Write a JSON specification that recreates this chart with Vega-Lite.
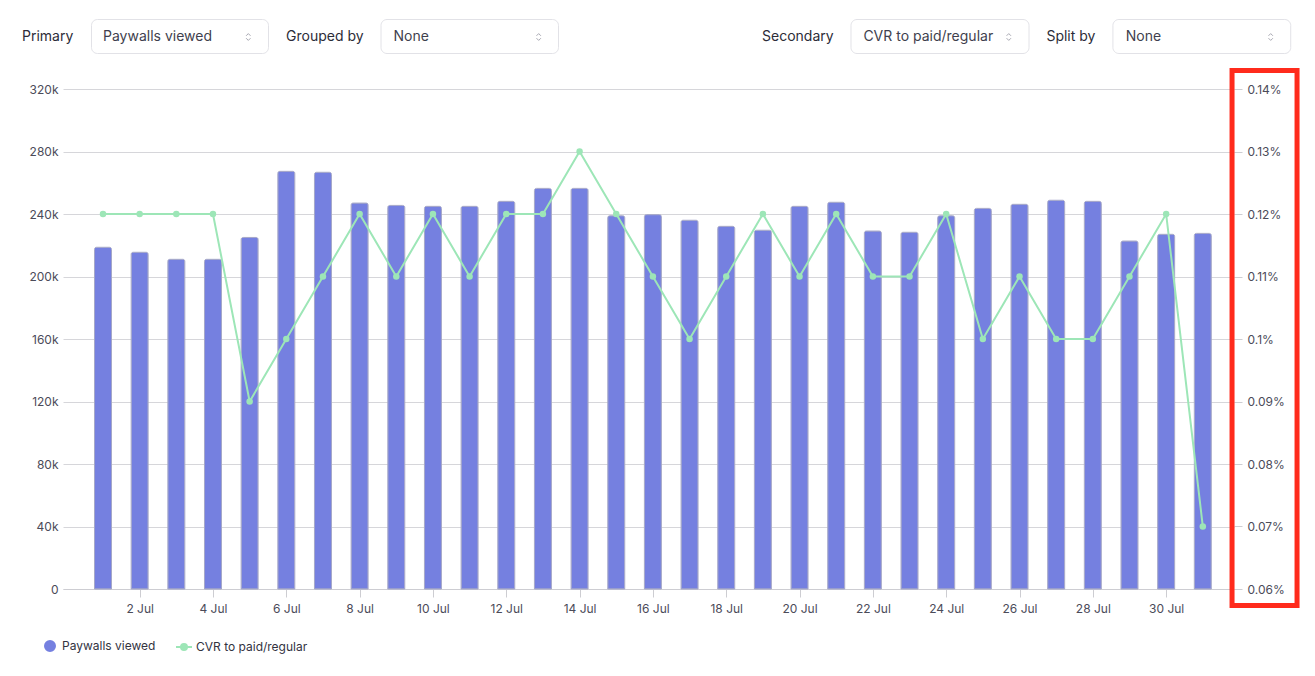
{
  "$schema": "https://vega.github.io/schema/vega-lite/v6.json",
  "autosize": {"type": "none"},
  "padding": {"left": 63, "top": 89, "right": 81, "bottom": 87},
  "width": 1171,
  "height": 500,
  "background": "white",
  "config": {
    "font": "Inter",
    "view": {"stroke": null},
    "axis": {"labelFont": "Inter", "labelFontSize": 12, "labelColor": "#4b4b59", "gridColor": "#d6d6da", "domainColor": "#cdcdd2", "tickColor": "#cdcdd2"},
    "legend": {"labelFont": "Inter", "labelFontSize": 12, "labelColor": "#33333f"}
  },
  "datasets": {
    "daily": [
      {"date": "2024-07-01T00:00:00", "paywalls_viewed": 218700, "cvr_pct": 0.12},
      {"date": "2024-07-02T00:00:00", "paywalls_viewed": 215500, "cvr_pct": 0.12},
      {"date": "2024-07-03T00:00:00", "paywalls_viewed": 211000, "cvr_pct": 0.12},
      {"date": "2024-07-04T00:00:00", "paywalls_viewed": 211000, "cvr_pct": 0.12},
      {"date": "2024-07-05T00:00:00", "paywalls_viewed": 225000, "cvr_pct": 0.09},
      {"date": "2024-07-06T00:00:00", "paywalls_viewed": 267300, "cvr_pct": 0.10},
      {"date": "2024-07-07T00:00:00", "paywalls_viewed": 266700, "cvr_pct": 0.11},
      {"date": "2024-07-08T00:00:00", "paywalls_viewed": 247000, "cvr_pct": 0.12},
      {"date": "2024-07-09T00:00:00", "paywalls_viewed": 245500, "cvr_pct": 0.11},
      {"date": "2024-07-10T00:00:00", "paywalls_viewed": 244900, "cvr_pct": 0.12},
      {"date": "2024-07-11T00:00:00", "paywalls_viewed": 244900, "cvr_pct": 0.11},
      {"date": "2024-07-12T00:00:00", "paywalls_viewed": 248100, "cvr_pct": 0.12},
      {"date": "2024-07-13T00:00:00", "paywalls_viewed": 256400, "cvr_pct": 0.12},
      {"date": "2024-07-14T00:00:00", "paywalls_viewed": 256400, "cvr_pct": 0.13},
      {"date": "2024-07-15T00:00:00", "paywalls_viewed": 238900, "cvr_pct": 0.12},
      {"date": "2024-07-16T00:00:00", "paywalls_viewed": 239600, "cvr_pct": 0.11},
      {"date": "2024-07-17T00:00:00", "paywalls_viewed": 236000, "cvr_pct": 0.10},
      {"date": "2024-07-18T00:00:00", "paywalls_viewed": 232100, "cvr_pct": 0.11},
      {"date": "2024-07-19T00:00:00", "paywalls_viewed": 229600, "cvr_pct": 0.12},
      {"date": "2024-07-20T00:00:00", "paywalls_viewed": 244900, "cvr_pct": 0.11},
      {"date": "2024-07-21T00:00:00", "paywalls_viewed": 247500, "cvr_pct": 0.12},
      {"date": "2024-07-22T00:00:00", "paywalls_viewed": 229100, "cvr_pct": 0.11},
      {"date": "2024-07-23T00:00:00", "paywalls_viewed": 228300, "cvr_pct": 0.11},
      {"date": "2024-07-24T00:00:00", "paywalls_viewed": 238900, "cvr_pct": 0.12},
      {"date": "2024-07-25T00:00:00", "paywalls_viewed": 243600, "cvr_pct": 0.10},
      {"date": "2024-07-26T00:00:00", "paywalls_viewed": 246200, "cvr_pct": 0.11},
      {"date": "2024-07-27T00:00:00", "paywalls_viewed": 248800, "cvr_pct": 0.10},
      {"date": "2024-07-28T00:00:00", "paywalls_viewed": 248100, "cvr_pct": 0.10},
      {"date": "2024-07-29T00:00:00", "paywalls_viewed": 222700, "cvr_pct": 0.11},
      {"date": "2024-07-30T00:00:00", "paywalls_viewed": 227000, "cvr_pct": 0.12},
      {"date": "2024-07-31T00:00:00", "paywalls_viewed": 227600, "cvr_pct": 0.07}
    ],
    "header": [
      {"primary": "Paywalls viewed", "grouped_by": "None", "secondary": "CVR to paid/regular", "split_by": "None"}
    ]
  },
  "layer": [
    {
      "layer": [
        {
          "data": {"name": "daily"},
          "mark": {"type": "bar", "width": 17, "cornerRadiusTopLeft": 2, "cornerRadiusTopRight": 2, "stroke": "#a4a6c8", "strokeWidth": 1},
          "encoding": {
            "x": {"field": "date", "type": "temporal", "title": null,
              "scale": {"domain": [{"year": 2024, "month": "jun", "date": 29, "hours": 21, "minutes": 49}, {"year": 2024, "month": "jul", "date": 31, "hours": 20, "minutes": 25}], "nice": false, "padding": 0},
              "axis": {"values": [
                {"year": 2024, "month": "jul", "date": 2}, {"year": 2024, "month": "jul", "date": 4}, {"year": 2024, "month": "jul", "date": 6}, {"year": 2024, "month": "jul", "date": 8},
                {"year": 2024, "month": "jul", "date": 10}, {"year": 2024, "month": "jul", "date": 12}, {"year": 2024, "month": "jul", "date": 14}, {"year": 2024, "month": "jul", "date": 16},
                {"year": 2024, "month": "jul", "date": 18}, {"year": 2024, "month": "jul", "date": 20}, {"year": 2024, "month": "jul", "date": 22}, {"year": 2024, "month": "jul", "date": 24},
                {"year": 2024, "month": "jul", "date": 26}, {"year": 2024, "month": "jul", "date": 28}, {"year": 2024, "month": "jul", "date": 30}],
                "format": "%-d %b", "labelAngle": 0, "tickSize": 8, "labelPadding": 6, "grid": false, "domain": true, "ticks": true, "labelOverlap": false, "labelFlush": false, "title": null}},
            "y": {"field": "paywalls_viewed", "type": "quantitative", "title": null,
              "scale": {"domain": [0, 320000], "nice": false},
              "axis": {"values": [0, 40000, 80000, 120000, 160000, 200000, 240000, 280000, 320000], "labelExpr": "datum.value === 0 ? '0' : format(datum.value, '~s')", "ticks": false, "domain": false, "labelPadding": 5, "grid": true, "title": null}},
            "color": {"datum": "Paywalls viewed", "type": "nominal",
              "scale": {"domain": ["Paywalls viewed", "CVR to paid/regular"], "range": ["#7580e0", "#9de6b7"]},
              "legend": {"title": null, "orient": "none", "legendX": -19, "legendY": 551, "direction": "horizontal",
                "symbolSize": 64, "labelOffset": 6, "columnPadding": 16, "padding": 0,
                "encode": {"symbols": {"update": {
                  "shape": {"signal": "datum.value === 'CVR to paid/regular' ? 'M-2,0L2,0M-0.75,0A0.75,0.75,0,1,1,0.75,0A0.75,0.75,0,1,1,-0.75,0Z' : 'circle'"},
                  "size": {"signal": "datum.value === 'CVR to paid/regular' ? 64 : 100"},
                  "fill": {"signal": "scale('color', datum.value)"},
                  "stroke": {"signal": "scale('color', datum.value)"},
                  "strokeWidth": {"value": 2},
                  "opacity": {"value": 1}, "fillOpacity": {"value": 1}, "strokeOpacity": {"value": 1}
                }}}}}
          }
        },
        {
          "data": {"name": "header"},
          "mark": {"type": "rect", "fill": "white", "stroke": "#e2e2e7", "strokeWidth": 1, "cornerRadius": 6},
          "encoding": {
            "x": {"datum": {"year": 2024, "month": "jun", "date": 30, "hours": 16, "minutes": 28}, "type": "temporal", "title": null, "scale": {"domain": [{"year": 2024, "month": "jun", "date": 29, "hours": 21, "minutes": 49}, {"year": 2024, "month": "jul", "date": 31, "hours": 20, "minutes": 25}], "nice": false, "padding": 0}},
            "x2": {"datum": {"year": 2024, "month": "jul", "date": 5, "hours": 12, "minutes": 21}},
            "y": {"datum": 364480, "type": "quantitative", "title": null, "scale": {"domain": [0, 320000], "nice": false}},
            "y2": {"datum": 342720}
          }
        },
        {
          "data": {"name": "header"},
          "mark": {"type": "rect", "fill": "white", "stroke": "#e2e2e7", "strokeWidth": 1, "cornerRadius": 6},
          "encoding": {
            "x": {"datum": {"year": 2024, "month": "jul", "date": 8, "hours": 14, "minutes": 0}, "type": "temporal", "title": null, "scale": {"domain": [{"year": 2024, "month": "jun", "date": 29, "hours": 21, "minutes": 49}, {"year": 2024, "month": "jul", "date": 31, "hours": 20, "minutes": 25}], "nice": false, "padding": 0}},
            "x2": {"datum": {"year": 2024, "month": "jul", "date": 13, "hours": 10, "minutes": 12}},
            "y": {"datum": 364480, "type": "quantitative", "title": null, "scale": {"domain": [0, 320000], "nice": false}},
            "y2": {"datum": 342720}
          }
        },
        {
          "data": {"name": "header"},
          "mark": {"type": "rect", "fill": "white", "stroke": "#e2e2e7", "strokeWidth": 1, "cornerRadius": 6},
          "encoding": {
            "x": {"datum": {"year": 2024, "month": "jul", "date": 21, "hours": 9, "minutes": 41}, "type": "temporal", "title": null, "scale": {"domain": [{"year": 2024, "month": "jun", "date": 29, "hours": 21, "minutes": 49}, {"year": 2024, "month": "jul", "date": 31, "hours": 20, "minutes": 25}], "nice": false, "padding": 0}},
            "x2": {"datum": {"year": 2024, "month": "jul", "date": 26, "hours": 6, "minutes": 13}},
            "y": {"datum": 364480, "type": "quantitative", "title": null, "scale": {"domain": [0, 320000], "nice": false}},
            "y2": {"datum": 342720}
          }
        },
        {
          "data": {"name": "header"},
          "mark": {"type": "rect", "fill": "white", "stroke": "#e2e2e7", "strokeWidth": 1, "cornerRadius": 6},
          "encoding": {
            "x": {"datum": {"year": 2024, "month": "jul", "date": 28, "hours": 13, "minutes": 9}, "type": "temporal", "title": null, "scale": {"domain": [{"year": 2024, "month": "jun", "date": 29, "hours": 21, "minutes": 49}, {"year": 2024, "month": "jul", "date": 31, "hours": 20, "minutes": 25}], "nice": false, "padding": 0}},
            "x2": {"datum": {"year": 2024, "month": "aug", "date": 2, "hours": 9, "minutes": 33}},
            "y": {"datum": 364480, "type": "quantitative", "title": null, "scale": {"domain": [0, 320000], "nice": false}},
            "y2": {"datum": 342720}
          }
        },
        {
          "data": {"name": "header"},
          "mark": {"type": "text", "text": "Primary", "align": "left", "baseline": "middle", "font": "Inter", "fontSize": 14, "fontWeight": 400, "color": "#2c2c38"},
          "encoding": {
            "x": {"datum": {"year": 2024, "month": "jun", "date": 28, "hours": 18, "minutes": 58}, "type": "temporal", "title": null, "scale": {"domain": [{"year": 2024, "month": "jun", "date": 29, "hours": 21, "minutes": 49}, {"year": 2024, "month": "jul", "date": 31, "hours": 20, "minutes": 25}], "nice": false, "padding": 0}},
            "y": {"datum": 353280, "type": "quantitative", "title": null, "scale": {"domain": [0, 320000], "nice": false}}
          }
        },
        {
          "data": {"name": "header"},
          "mark": {"type": "text", "align": "left", "baseline": "middle", "font": "Inter", "fontSize": 14, "color": "#3f3f4e"},
          "encoding": {
            "text": {"field": "primary"},
            "x": {"datum": {"year": 2024, "month": "jul", "date": 1, "hours": 0, "minutes": 0}, "type": "temporal", "title": null, "scale": {"domain": [{"year": 2024, "month": "jun", "date": 29, "hours": 21, "minutes": 49}, {"year": 2024, "month": "jul", "date": 31, "hours": 20, "minutes": 25}], "nice": false, "padding": 0}},
            "y": {"datum": 353280, "type": "quantitative", "title": null, "scale": {"domain": [0, 320000], "nice": false}}
          }
        },
        {
          "data": {"name": "header"},
          "mark": {"type": "text", "text": "Grouped by", "align": "left", "baseline": "middle", "font": "Inter", "fontSize": 14, "fontWeight": 400, "color": "#2c2c38"},
          "encoding": {
            "x": {"datum": {"year": 2024, "month": "jul", "date": 5, "hours": 23, "minutes": 50}, "type": "temporal", "title": null, "scale": {"domain": [{"year": 2024, "month": "jun", "date": 29, "hours": 21, "minutes": 49}, {"year": 2024, "month": "jul", "date": 31, "hours": 20, "minutes": 25}], "nice": false, "padding": 0}},
            "y": {"datum": 353280, "type": "quantitative", "title": null, "scale": {"domain": [0, 320000], "nice": false}}
          }
        },
        {
          "data": {"name": "header"},
          "mark": {"type": "text", "align": "left", "baseline": "middle", "font": "Inter", "fontSize": 14, "color": "#3f3f4e"},
          "encoding": {
            "text": {"field": "grouped_by"},
            "x": {"datum": {"year": 2024, "month": "jul", "date": 8, "hours": 22, "minutes": 11}, "type": "temporal", "title": null, "scale": {"domain": [{"year": 2024, "month": "jun", "date": 29, "hours": 21, "minutes": 49}, {"year": 2024, "month": "jul", "date": 31, "hours": 20, "minutes": 25}], "nice": false, "padding": 0}},
            "y": {"datum": 353280, "type": "quantitative", "title": null, "scale": {"domain": [0, 320000], "nice": false}}
          }
        },
        {
          "data": {"name": "header"},
          "mark": {"type": "text", "text": "Secondary", "align": "left", "baseline": "middle", "font": "Inter", "fontSize": 14, "fontWeight": 400, "color": "#2c2c38"},
          "encoding": {
            "x": {"datum": {"year": 2024, "month": "jul", "date": 18, "hours": 23, "minutes": 25}, "type": "temporal", "title": null, "scale": {"domain": [{"year": 2024, "month": "jun", "date": 29, "hours": 21, "minutes": 49}, {"year": 2024, "month": "jul", "date": 31, "hours": 20, "minutes": 25}], "nice": false, "padding": 0}},
            "y": {"datum": 353280, "type": "quantitative", "title": null, "scale": {"domain": [0, 320000], "nice": false}}
          }
        },
        {
          "data": {"name": "header"},
          "mark": {"type": "text", "align": "left", "baseline": "middle", "font": "Inter", "fontSize": 14, "color": "#3f3f4e"},
          "encoding": {
            "text": {"field": "secondary"},
            "x": {"datum": {"year": 2024, "month": "jul", "date": 21, "hours": 17, "minutes": 48}, "type": "temporal", "title": null, "scale": {"domain": [{"year": 2024, "month": "jun", "date": 29, "hours": 21, "minutes": 49}, {"year": 2024, "month": "jul", "date": 31, "hours": 20, "minutes": 25}], "nice": false, "padding": 0}},
            "y": {"datum": 353280, "type": "quantitative", "title": null, "scale": {"domain": [0, 320000], "nice": false}}
          }
        },
        {
          "data": {"name": "header"},
          "mark": {"type": "text", "text": "Split by", "align": "left", "baseline": "middle", "font": "Inter", "fontSize": 14, "fontWeight": 400, "color": "#2c2c38"},
          "encoding": {
            "x": {"datum": {"year": 2024, "month": "jul", "date": 26, "hours": 17, "minutes": 37}, "type": "temporal", "title": null, "scale": {"domain": [{"year": 2024, "month": "jun", "date": 29, "hours": 21, "minutes": 49}, {"year": 2024, "month": "jul", "date": 31, "hours": 20, "minutes": 25}], "nice": false, "padding": 0}},
            "y": {"datum": 353280, "type": "quantitative", "title": null, "scale": {"domain": [0, 320000], "nice": false}}
          }
        },
        {
          "data": {"name": "header"},
          "mark": {"type": "text", "align": "left", "baseline": "middle", "font": "Inter", "fontSize": 14, "color": "#3f3f4e"},
          "encoding": {
            "text": {"field": "split_by"},
            "x": {"datum": {"year": 2024, "month": "jul", "date": 28, "hours": 21, "minutes": 32}, "type": "temporal", "title": null, "scale": {"domain": [{"year": 2024, "month": "jun", "date": 29, "hours": 21, "minutes": 49}, {"year": 2024, "month": "jul", "date": 31, "hours": 20, "minutes": 25}], "nice": false, "padding": 0}},
            "y": {"datum": 353280, "type": "quantitative", "title": null, "scale": {"domain": [0, 320000], "nice": false}}
          }
        },
        {
          "data": {"name": "header"},
          "mark": {"type": "point", "shape": "M-0.55,-0.3L0,-0.85L0.55,-0.3M-0.55,0.3L0,0.85L0.55,0.3", "size": 64, "filled": false, "stroke": "#a8a8b2", "strokeWidth": 1, "opacity": 1},
          "encoding": {
            "x": {"datum": {"year": 2024, "month": "jul", "date": 4, "hours": 23, "minutes": 8}, "type": "temporal", "title": null, "scale": {"domain": [{"year": 2024, "month": "jun", "date": 29, "hours": 21, "minutes": 49}, {"year": 2024, "month": "jul", "date": 31, "hours": 20, "minutes": 25}], "nice": false, "padding": 0}},
            "y": {"datum": 353280, "type": "quantitative", "title": null, "scale": {"domain": [0, 320000], "nice": false}}
          }
        },
        {
          "data": {"name": "header"},
          "mark": {"type": "point", "shape": "M-0.55,-0.3L0,-0.85L0.55,-0.3M-0.55,0.3L0,0.85L0.55,0.3", "size": 64, "filled": false, "stroke": "#a8a8b2", "strokeWidth": 1, "opacity": 1},
          "encoding": {
            "x": {"datum": {"year": 2024, "month": "jul", "date": 12, "hours": 21, "minutes": 14}, "type": "temporal", "title": null, "scale": {"domain": [{"year": 2024, "month": "jun", "date": 29, "hours": 21, "minutes": 49}, {"year": 2024, "month": "jul", "date": 31, "hours": 20, "minutes": 25}], "nice": false, "padding": 0}},
            "y": {"datum": 353280, "type": "quantitative", "title": null, "scale": {"domain": [0, 320000], "nice": false}}
          }
        },
        {
          "data": {"name": "header"},
          "mark": {"type": "point", "shape": "M-0.55,-0.3L0,-0.85L0.55,-0.3M-0.55,0.3L0,0.85L0.55,0.3", "size": 64, "filled": false, "stroke": "#a8a8b2", "strokeWidth": 1, "opacity": 1},
          "encoding": {
            "x": {"datum": {"year": 2024, "month": "jul", "date": 25, "hours": 16, "minutes": 59}, "type": "temporal", "title": null, "scale": {"domain": [{"year": 2024, "month": "jun", "date": 29, "hours": 21, "minutes": 49}, {"year": 2024, "month": "jul", "date": 31, "hours": 20, "minutes": 25}], "nice": false, "padding": 0}},
            "y": {"datum": 353280, "type": "quantitative", "title": null, "scale": {"domain": [0, 320000], "nice": false}}
          }
        },
        {
          "data": {"name": "header"},
          "mark": {"type": "point", "shape": "M-0.55,-0.3L0,-0.85L0.55,-0.3M-0.55,0.3L0,0.85L0.55,0.3", "size": 64, "filled": false, "stroke": "#a8a8b2", "strokeWidth": 1, "opacity": 1},
          "encoding": {
            "x": {"datum": {"year": 2024, "month": "aug", "date": 1, "hours": 20, "minutes": 27}, "type": "temporal", "title": null, "scale": {"domain": [{"year": 2024, "month": "jun", "date": 29, "hours": 21, "minutes": 49}, {"year": 2024, "month": "jul", "date": 31, "hours": 20, "minutes": 25}], "nice": false, "padding": 0}},
            "y": {"datum": 353280, "type": "quantitative", "title": null, "scale": {"domain": [0, 320000], "nice": false}}
          }
        },
        {
          "data": {"name": "header"},
          "mark": {"type": "rect", "filled": false, "fill": null, "stroke": "#ff2b1c", "strokeWidth": 5},
          "encoding": {
            "x": {"datum": {"year": 2024, "month": "jul", "date": 31, "hours": 19, "minutes": 8}, "type": "temporal", "title": null, "scale": {"domain": [{"year": 2024, "month": "jun", "date": 29, "hours": 21, "minutes": 49}, {"year": 2024, "month": "jul", "date": 31, "hours": 20, "minutes": 25}], "nice": false, "padding": 0}},
            "x2": {"datum": {"year": 2024, "month": "aug", "date": 2, "hours": 13, "minutes": 41}},
            "y": {"datum": 331840, "type": "quantitative", "title": null, "scale": {"domain": [0, 320000], "nice": false}},
            "y2": {"datum": -10560}
          }
        }
      ]
    },
    {
      "data": {"name": "daily"},
      "mark": {"type": "line", "strokeWidth": 2, "point": {"filled": true, "size": 42, "opacity": 1}},
      "encoding": {
        "x": {"field": "date", "type": "temporal", "title": null, "scale": {"domain": [{"year": 2024, "month": "jun", "date": 29, "hours": 21, "minutes": 49}, {"year": 2024, "month": "jul", "date": 31, "hours": 20, "minutes": 25}], "nice": false, "padding": 0}},
        "y": {"field": "cvr_pct", "type": "quantitative", "title": null,
          "scale": {"domain": [0.06, 0.14], "nice": false, "zero": false},
          "axis": {"orient": "right", "values": [0.06, 0.07, 0.08, 0.09, 0.1, 0.11, 0.12, 0.13, 0.14], "labelExpr": "format(datum.value, '.2~f') + '%'", "grid": false, "domain": false, "ticks": true, "tickSize": 8, "labelPadding": 5, "title": null}},
        "color": {"datum": "CVR to paid/regular", "type": "nominal",
          "legend": {"title": null, "orient": "none", "legendX": -19, "legendY": 551, "direction": "horizontal",
            "symbolSize": 64, "labelOffset": 6, "columnPadding": 16, "padding": 0,
            "encode": {"symbols": {"update": {
              "shape": {"signal": "datum.value === 'CVR to paid/regular' ? 'M-2,0L2,0M-0.75,0A0.75,0.75,0,1,1,0.75,0A0.75,0.75,0,1,1,-0.75,0Z' : 'circle'"},
              "size": {"signal": "datum.value === 'CVR to paid/regular' ? 64 : 100"},
              "fill": {"signal": "scale('color', datum.value)"},
              "stroke": {"signal": "scale('color', datum.value)"},
              "strokeWidth": {"value": 2},
              "opacity": {"value": 1}, "fillOpacity": {"value": 1}, "strokeOpacity": {"value": 1}
            }}}}}
      }
    }
  ],
  "resolve": {"scale": {"y": "independent"}}
}
